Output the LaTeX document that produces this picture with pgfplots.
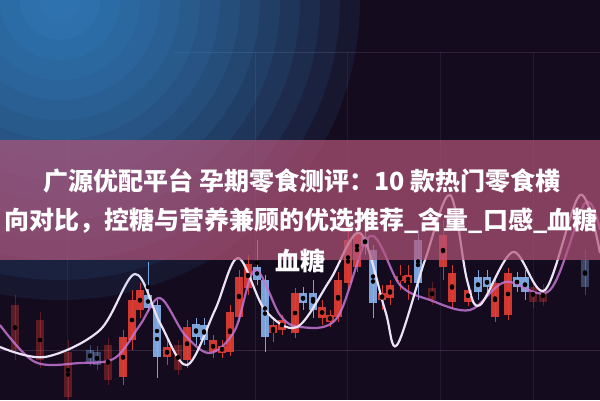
\documentclass[border=0pt]{standalone}
\usepackage{pgfplots}
\pgfplotsset{compat=1.18}
\usepackage{pgfplotstable}
\usepackage{fontspec}
\newfontfamily\cjk{Noto Sans CJK SC}

\definecolor{bgbase}{RGB}{20,11,30}
\definecolor{skyblue}{RGB}{60,155,228}
\definecolor{candred}{RGB}{228,62,52}
\definecolor{candblue}{RGB}{135,180,238}
\definecolor{curvew}{RGB}{236,226,246}
\definecolor{curvep}{RGB}{196,116,210}
\definecolor{bandc}{RGB}{180,85,122}
\definecolor{gridc}{RGB}{150,130,170}
\pagecolor{bgbase}

% candles: x, body top, body bottom, wick top, wick bottom (image y, downwards)
\pgfplotstableread{
x t b wt wb
123 337 377 330 385
132 300 340 290 350
140 290 310 283 318
167 347 357 340 365
187 327 360 320 368
213 340 352 335 358
222 346 353 340 358
230 312 352 305 356
239 277 317 270 322
248 264 288 255 295
273 325 333 320 342
282 320 330 315 335
295 293 333 288 338
322 307 318 300 325
330 315 322 310 327
338 280 317 272 322
348 240 283 225 290
357 233 267 220 272
382 293 300 285 310
390 285 298 280 305
400 276 281 265 290
408 275 283 265 300
443 235 267 220 280
452 273 302 265 308
468 290 302 285 306
495 283 317 275 322
508 273 315 268 320
}\redbright

\pgfplotstableread{
x t b wt wb
15 305 350 295 360
40 320 360 312 368
68 352 397 340 400
108 345 380 338 385
178 345 370 340 375
432 288 300 282 305
533 287 302 280 308
543 290 302 284 306
}\reddim

\pgfplotstableread{
x t b wt wb
148 295 308 262 312
157 305 357 300 378
196 324 337 318 345
204 325 340 318 345
257 267 280 240 285
265 280 337 275 352
303 293 303 287 310
313 293 310 280 318
365 237 247 228 255
373 250 303 245 318
418 240 283 230 300
478 277 292 270 300
487 277 287 270 295
517 277 287 272 292
525 277 292 270 300
}\bluebright

\pgfplotstableread{
x t b wt wb
90 350 362 345 366
97 352 365 346 370
585 260 287 250 295
}\bluedim

\pgfplotsset{
  wick/.style 2 args={only marks, mark=none, forget plot,
    error bars/.cd, y dir=both, y explicit, error mark=none,
    error bar style={line width=1pt, draw=#1, opacity=#2}},
  body/.style 2 args={only marks, mark=none, forget plot,
    error bars/.cd, y dir=both, y explicit, error mark=none,
    error bar style={line width=8pt, draw=#1, opacity=#2}},
}
\newcommand{\candles}[3]{%
  \addplot[wick={#2}{#3}] table[x=x,
    y expr={(\thisrow{wt}+\thisrow{wb})/2},
    y error expr={(\thisrow{wb}-\thisrow{wt})/2}] {#1};
  \addplot[body={#2}{#3}] table[x=x,
    y expr={(\thisrow{t}+\thisrow{b})/2},
    y error expr={(\thisrow{b}-\thisrow{t})/2}] {#1};
}

\begin{document}
\begin{tikzpicture}
  \begin{axis}[
    scale only axis,
    width=600pt, height=400pt,
    xmin=0, xmax=600, ymin=0, ymax=400,
    y dir=reverse,
    hide axis,
    clip=true,
    axis background/.style={fill=bgbase},
    ]

    % faint grid
    \addplot[gridc, opacity=0.25, line width=0.8pt, forget plot] coordinates {(0,350) (600,350)};
    \addplot[gridc, opacity=0.2, line width=0.8pt, forget plot] coordinates {(175,52) (600,52)};
    \addplot[gridc, opacity=0.12, line width=0.8pt, forget plot] coordinates {(67,140) (67,400)};
    \addplot[gridc, opacity=0.15, line width=0.8pt, forget plot] coordinates {(255,52) (255,400)};
    \addplot[gridc, opacity=0.12, line width=0.8pt, forget plot] coordinates {(347,52) (347,400)};
    \addplot[gridc, opacity=0.12, line width=0.8pt, forget plot] coordinates {(440,52) (440,400)};
    \addplot[gridc, opacity=0.12, line width=0.8pt, forget plot] coordinates {(533,52) (533,400)};

    \candles{\reddim}{candred}{0.35}
    \candles{\bluedim}{candblue}{0.35}
    \candles{\redbright}{candred}{0.9}
    \candles{\bluebright}{candblue}{0.9}

    % moving-average curves
    \addplot[curvep, opacity=0.85, line width=2.2pt, smooth, tension=0.55, forget plot] coordinates {
      (0,325) (35,362) (80,363) (115,358) (140,325) (160,298) (185,335) (210,353)
      (235,330) (255,270) (280,315) (300,327) (337,318) (370,236) (400,285) (430,300)
      (470,310) (505,282) (550,290) (585,203) (600,230)};
    \addplot[curvew, line width=2.2pt, smooth, tension=0.55, forget plot] coordinates {
      (0,347) (45,357) (100,330) (135,274) (160,323) (187,365) (215,310) (238,258)
      (265,310) (297,327) (330,280) (360,233) (385,310) (397,345) (425,260) (450,195)
      (467,280) (480,305) (513,252) (545,290) (580,195) (600,253)};

    % blue glow in the top-left corner: stacked translucent discs
    \pgfplotsinvokeforeach{20,40,60,80,100,120,140,160,180,200,220,240,260,280,300}{
      \fill[skyblue, opacity=0.09] (axis cs:60,0) circle (#1pt);
    }

    % title band
    \fill[bandc, opacity=0.7] (axis cs:0,140) rectangle (axis cs:600,260);

    \node[anchor=base, text=white, inner sep=0pt,
      font={\cjk\bfseries\fontsize{25pt}{30pt}\selectfont}]
      at (axis cs:302,190) {广源优配平台 孕期零食测评：10 款热门零食横};
    \node[anchor=base, text=white, inner sep=0pt,
      font={\cjk\bfseries\fontsize{25pt}{30pt}\selectfont}]
      at (axis cs:301,229) {向对比，控糖与营养兼顾的优选推荐\_含量\_口感\_血糖};
    \node[anchor=base, text=white, inner sep=0pt,
      font={\cjk\bfseries\fontsize{25pt}{30pt}\selectfont}]
      at (axis cs:300,270) {血糖};
  \end{axis}
\end{tikzpicture}
\end{document}
